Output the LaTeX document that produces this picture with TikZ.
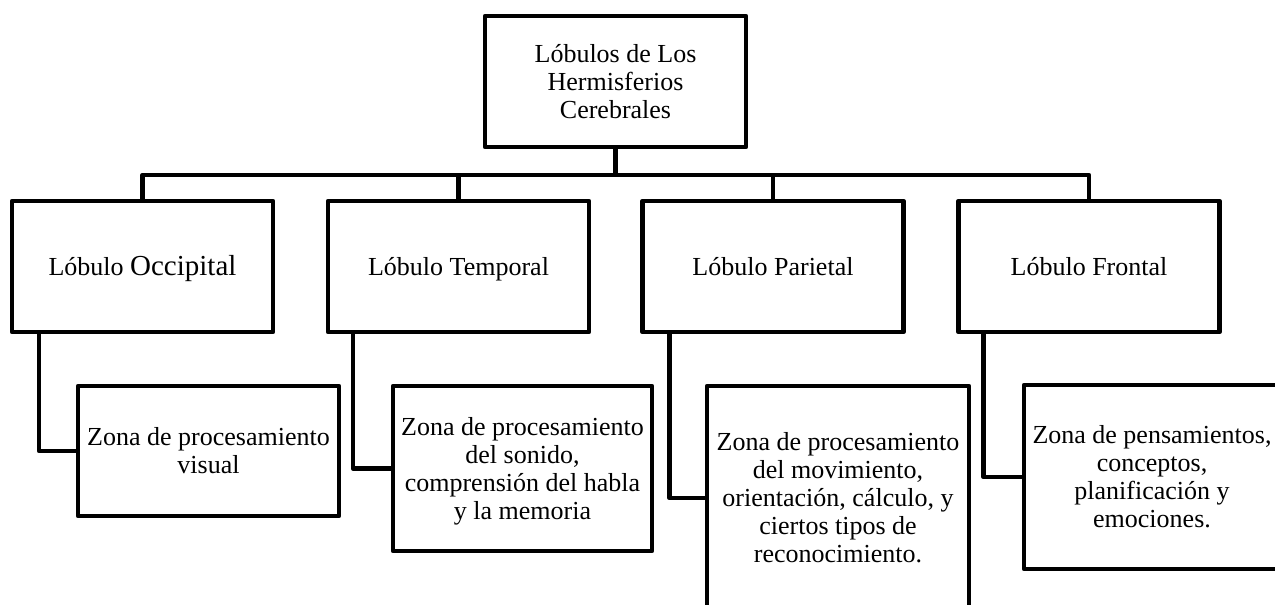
\documentclass[tikz,border=0pt]{standalone}
\usepackage{fontspec}
\setmainfont{Liberation Serif}
\usetikzlibrary{calc}
\tikzset{
  boxstyle/.style={draw=black, line width=4.5pt, line join=round, inner sep=0pt, outer sep=0pt,
    align=center, font=\fontsize{26}{28}\selectfont},
  lobe/.style={boxstyle, minimum width=261pt, minimum height=131pt, text height=20pt, text depth=3pt},
  conn/.style={draw=black, line width=4.5pt, line join=round}
}
\begin{document}
\begin{tikzpicture}[x=1pt,y=-1pt]
\useasboundingbox (0,0) rectangle (1275,605);
\clip (0,0) rectangle (1275,605);
% top
\node[boxstyle, minimum width=261pt, minimum height=131pt] (top) at (615.5,81.5)
  {Lóbulos de Los\\Hermisferios\\Cerebrales};
% level 2
\node[lobe] (occ) at (142.5,266.5) {Lóbulo {\fontsize{29}{28}\selectfont Occipital}};
\node[lobe] (tem) at (458.5,266.5) {Lóbulo Temporal};
\node[lobe] (par) at (773,266.5) {Lóbulo Parietal};
\node[lobe] (fro) at (1089,266.5) {Lóbulo Frontal};
% level 3
\node[boxstyle, minimum width=261pt, minimum height=130pt] (zocc) at (208.5,451)
  {Zona de procesamiento\\visual};
\node[boxstyle, minimum width=259pt, minimum height=165pt, text depth=0pt] (ztem) at (522.5,468.5)
  {Zona de procesamiento\\del sonido,\\comprensión del habla\\y la memoria};
\node[boxstyle, minimum width=262pt, minimum height=224pt] (zpar) at (838,498)
  {Zona de procesamiento\\del movimiento,\\orientación, cálculo, y\\ciertos tipos de\\reconocimiento.};
\node[boxstyle, minimum width=256pt, minimum height=184pt] (zfro) at (1152,477)
  {Zona de pensamientos,\\conceptos,\\planificación y\\emociones.};
% bus
\coordinate (bus) at (616,175);
\draw[conn] (top.south) -- (top.south |- bus);
\draw[conn] (occ.north) -- (occ.north |- bus) -- (fro.north |- bus) -- (fro.north);
\draw[conn] (tem.north) -- (tem.north |- bus);
\draw[conn] (par.north) -- (par.north |- bus);
% level 3 connectors
\draw[conn] ($(occ.south west)+(27,0)$) |- (zocc.west);
\draw[conn] ($(tem.south west)+(25,0)$) |- (ztem.west);
\draw[conn] ($(par.south west)+(27,0)$) |- (zpar.west);
\draw[conn] ($(fro.south west)+(25,0)$) |- (zfro.west);
\end{tikzpicture}
\end{document}
